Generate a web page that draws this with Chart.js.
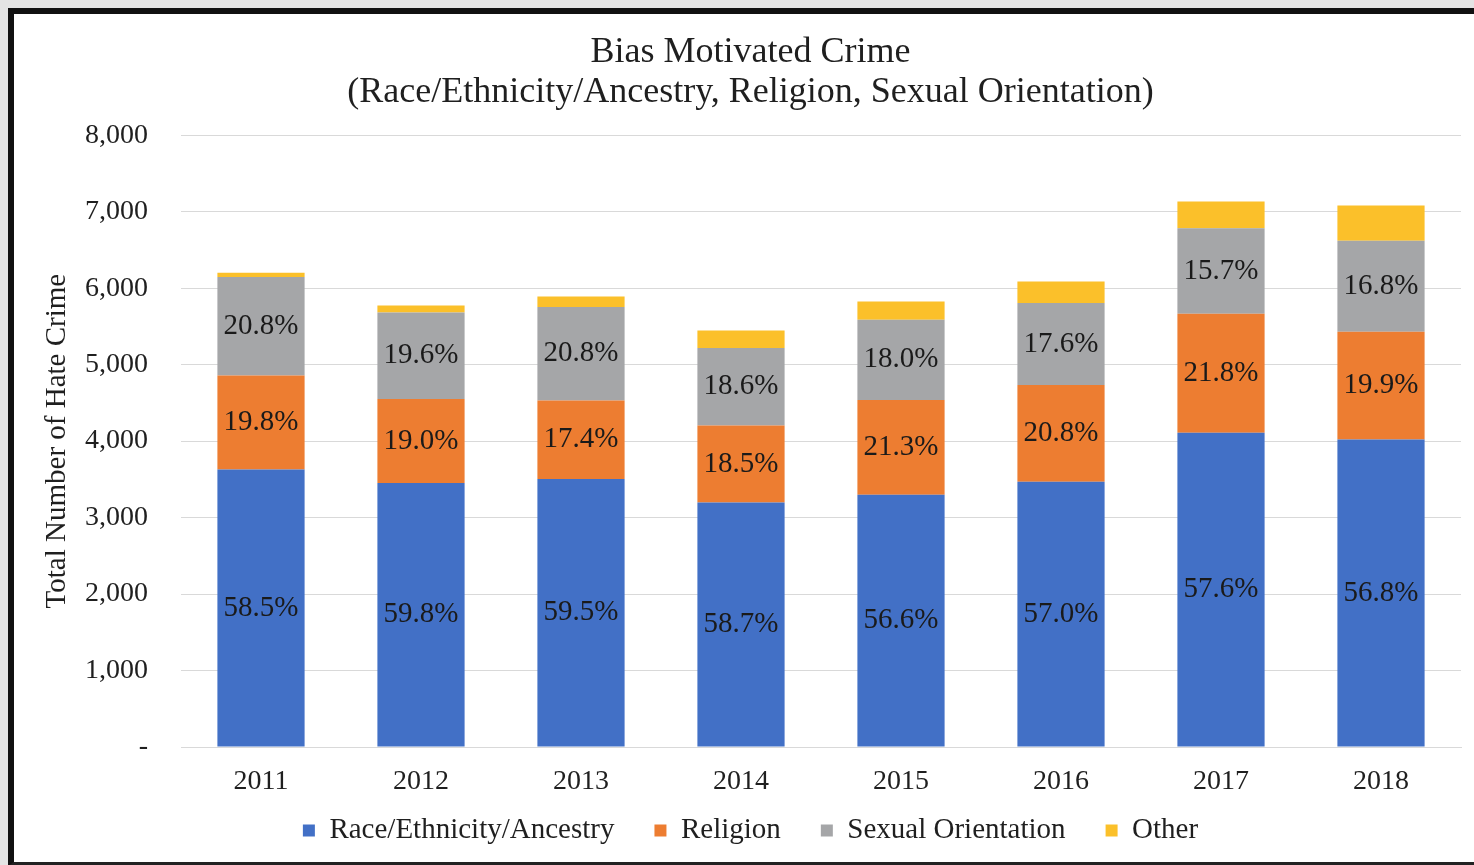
<!DOCTYPE html>
<html>
<head>
<meta charset="utf-8">
<script src="https://cdn.jsdelivr.net/npm/chart.js@4.4.1/dist/chart.umd.min.js"></script>
<style>
  html, body { margin: 0; padding: 0; width: 1474px; height: 865px; overflow: hidden; background: #e4e4e4; }
  #frame {
    position: absolute; left: 8px; top: 8px; width: 1480px; height: 848px;
    background: #fff; border-left: 6px solid #111; border-top: 6px solid #111; border-bottom: 4px solid #222;
  }
  #wrap { position: absolute; left: 0; top: 0; width: 1474px; height: 865px; }
</style>
</head>
<body>
<div id="frame"></div>
<div id="wrap"><canvas id="biasChart" width="1474" height="865"></canvas></div>
<script>
// values
const years = ['2011', '2012', '2013', '2014', '2015', '2016', '2017', '2018'];
const raceCounts = [3629, 3452, 3505, 3196, 3297, 3469, 4109, 4022];
const religionCounts = [1228, 1097, 1025, 1007, 1241, 1266, 1555, 1409];
const sexualCounts = [1290, 1131, 1225, 1013, 1049, 1071, 1120, 1190];
const otherCounts = [56, 92, 135, 229, 239, 280, 350, 460];

const racePct = ['58.5%', '59.8%', '59.5%', '58.7%', '56.6%', '57.0%', '57.6%', '56.8%'];
const religionPct = ['19.8%', '19.0%', '17.4%', '18.5%', '21.3%', '20.8%', '21.8%', '19.9%'];
const sexualPct = ['20.8%', '19.6%', '20.8%', '18.6%', '18.0%', '17.6%', '15.7%', '16.8%'];

const yMax = 8000;
const yStep = 1000;

const serif = '"Liberation Serif", "Times New Roman", serif';
const textColor = '#1f1f1f';

// percent labels in the middle of each segment
const segmentLabels = {
    id: 'segmentLabels',
    afterDatasetsDraw(chart) {
        const ctx = chart.ctx;
        const labelSets = [racePct, religionPct, sexualPct];
        ctx.save();
        ctx.font = '29px ' + serif;
        ctx.fillStyle = '#1a1a1a';
        ctx.textAlign = 'center';
        ctx.textBaseline = 'middle';
        labelSets.forEach((labels, di) => {
            chart.getDatasetMeta(di).data.forEach((bar, i) => {
                ctx.fillText(labels[i], bar.x, (bar.y + bar.base) / 2);
            });
        });
        ctx.restore();
    }
};

// x box is kept short so the legend sits close; let the year labels spill below it
const xLabelRoom = {
    id: 'xLabelRoom',
    afterLayout(chart) {
        chart.scales.x.bottom += 30;
    }
};

const ctx = document.getElementById('biasChart').getContext('2d');

new Chart(ctx, {
    type: 'bar',
    data: {
        labels: years,
        datasets: [
            { label: 'Race/Ethnicity/Ancestry', data: raceCounts, backgroundColor: '#4270C6' },
            { label: 'Religion', data: religionCounts, backgroundColor: '#ED7D31' },
            { label: 'Sexual Orientation', data: sexualCounts, backgroundColor: '#A5A6A8' },
            { label: 'Other', data: otherCounts, backgroundColor: '#FBC02A' }
        ]
    },
    options: {
        responsive: false,
        animation: false,
        devicePixelRatio: 1,
        datasets: {
            bar: { barPercentage: 0.545, categoryPercentage: 1, borderWidth: 0 }
        },
        layout: { padding: { left: 40, right: 13, top: 14, bottom: 10 } },
        plugins: {
            title: {
                display: true,
                text: ['Bias Motivated Crime', '(Race/Ethnicity/Ancestry, Religion, Sexual Orientation)'],
                color: textColor,
                font: { family: serif, size: 36, weight: 'normal', lineHeight: 1.1 },
                padding: { top: 19, bottom: 23 }
            },
            legend: {
                position: 'bottom',
                labels: {
                    color: textColor,
                    font: { family: serif, size: 29, lineHeight: 0.3 },
                    boxWidth: 12,
                    boxHeight: 12,
                    padding: 40
                }
            },
            tooltip: { enabled: false }
        },
        scales: {
            x: {
                stacked: true,
                afterFit(scale) { scale.height = 29; },
                grid: { display: false },
                border: { color: '#d9d9d9' },
                ticks: { color: textColor, font: { family: serif, size: 28, lineHeight: 0.2 }, padding: 24 }
            },
            y: {
                stacked: true,
                min: 0,
                max: yMax,
                afterFit(scale) { scale.width = 141; },
                grid: { color: '#d9d9d9', drawTicks: false },
                border: { display: false },
                ticks: {
                    stepSize: yStep,
                    color: textColor,
                    font: { family: serif, size: 28 },
                    padding: 33,
                    callback: v => v === 0 ? '-' : v.toLocaleString('en-US')
                },
                title: {
                    display: true,
                    text: 'Total Number of Hate Crime',
                    color: textColor,
                    font: { family: serif, size: 29 },
                    padding: { top: 0, bottom: 0 }
                }
            }
        }
    },
    plugins: [segmentLabels, xLabelRoom]
});
</script>
</body>
</html>
